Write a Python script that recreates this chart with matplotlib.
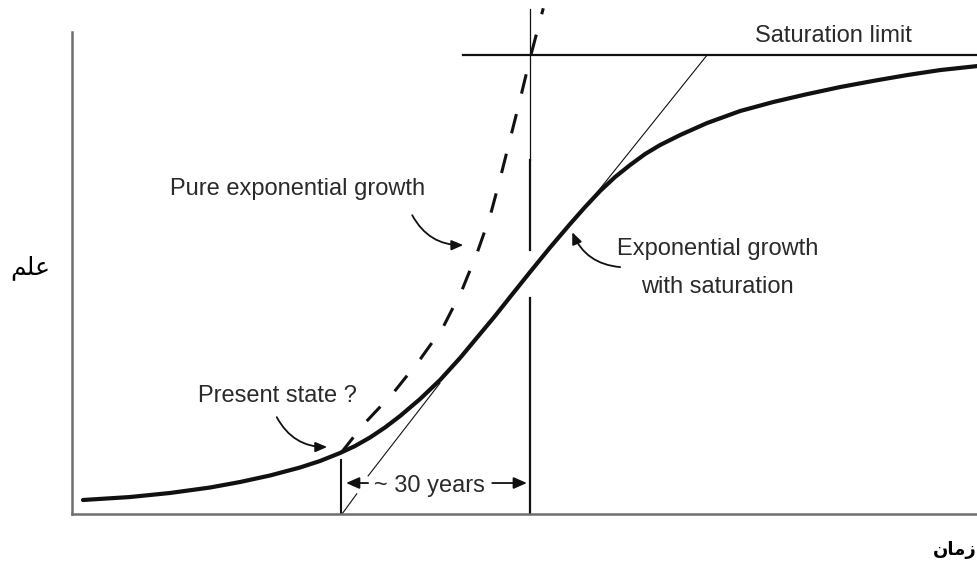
"""
Exponential growth vs. exponential growth with saturation (logistic sketch)
"""

import matplotlib
matplotlib.use("Agg")
import matplotlib.pyplot as plt

plt.rcParams['font.family'] = ['Liberation Sans', 'DejaVu Sans']

# time in years relative to the present state, growth in % of the saturation limit
years_s = [-40.95, -33.49, -27.14, -20.79, -16.03, -11.27, -6.51, -3.33, -0.16,
           2.22, 4.60, 6.98, 9.37, 12.54, 15.71, 18.89, 22.06, 24.44, 26.83,
           30.0, 33.17, 36.35, 38.73, 41.11, 43.49, 45.87, 48.25, 50.63, 53.81,
           58.10, 63.33, 68.57, 73.65, 79.21, 84.76, 89.84, 95.08, 100.95]
growth_s = [3.05, 3.70, 4.58, 5.77, 6.97, 8.39, 10.13, 11.55, 13.29,
            14.81, 16.67, 18.85, 21.35, 25.05, 29.19, 33.99, 39.22, 43.14, 47.28,
            52.72, 58.06, 63.18, 66.88, 70.37, 73.42, 76.03, 78.43, 80.39, 82.57,
            85.19, 87.80, 89.76, 91.39, 93.03, 94.44, 95.64, 96.73, 97.60]

years_exp = [0.0, 3.5, 8.3, 12.5, 16.2, 19.2, 21.6, 23.7, 25.2, 26.8, 28.4, 30.0, 32.1]
growth_exp = [13.3, 19.4, 26.4, 33.6, 40.7, 48.8, 56.9, 65.1, 72.8, 81.5, 90.2, 99.3, 110.2]

saturation = 100.0
saturation_from = 19.4
present_year = 0.0
horizon_years = 30

# thin tangent lines (x pairs, y pairs)
tangent_upper_x = [40.3, 58.1]
tangent_upper_y = [69.5, 100.0]
tangent_lower_x = [[0.16, 2.5], [4.3, 15.7]]
tangent_lower_y = [[0.0, 4.4], [8.3, 28.5]]

W, H = 978, 564
fig = plt.figure(figsize=(W / 100, H / 100), dpi=100)
ax = fig.add_axes([72 / W, 50 / H, 906 / W, 514 / H])
ax.set_xlim(-42.7, 101.1)
ax.set_ylim(0, 112.0)

ink = '#111111'
txt = '#2a2a2a'

ax.plot(years_s, growth_s, color=ink, lw=3.0, solid_capstyle='round',
        solid_joinstyle='round', zorder=5)
ax.plot(years_exp, growth_exp, color=ink, lw=2.2, dashes=(6.5, 6.9), clip_on=False, zorder=4)

ax.plot([saturation_from, 101.1], [saturation, saturation], color=ink, lw=1.6)
ax.plot(tangent_upper_x, tangent_upper_y, color=ink, lw=0.8)
for tx, ty in zip(tangent_lower_x, tangent_lower_y):
    ax.plot(tx, ty, color=ink, lw=0.8)

ax.plot([present_year, present_year], [0, 11.8], color=ink, lw=1.5)
ax.plot([horizon_years, horizon_years], [0, 47.1], color=ink, lw=1.6)
ax.plot([horizon_years, horizon_years], [57.5, 77.1], color=ink, lw=1.6)
ax.plot([horizon_years, horizon_years], [77.1, 110.0], color=ink, lw=0.9, clip_on=False)

fs = 17
ax.text(-27.1, 69.5, 'Pure exponential growth', fontsize=fs, color=txt, va='baseline', ha='left')
ax.text(59.8, 56.4, 'Exponential growth', fontsize=fs, color=txt, va='baseline', ha='center')
ax.text(59.8, 48.1, 'with saturation', fontsize=fs, color=txt, va='baseline', ha='center')
ax.text(-22.7, 24.4, 'Present state ?', fontsize=fs, color=txt, va='baseline', ha='left')
ax.text(65.7, 102.8, 'Saturation limit', fontsize=fs, color=txt, va='baseline', ha='left')
ax.text(14.0, 4.8, '~ 30 years', fontsize=fs, color=txt, va='baseline', ha='center')

curved = dict(arrowstyle='-|>,head_length=0.7,head_width=0.3', color=ink, lw=1.3,
              shrinkA=0, shrinkB=0)
ax.annotate('', xy=(19.4, 58.6), xytext=(11.3, 65.1),
            arrowprops=dict(curved, connectionstyle='arc3,rad=0.3'))
ax.annotate('', xy=(36.7, 61.4), xytext=(44.3, 53.8),
            arrowprops=dict(curved, connectionstyle='arc3,rad=-0.3'))
ax.annotate('', xy=(-2.2, 14.6), xytext=(-10.2, 21.1),
            arrowprops=dict(curved, connectionstyle='arc3,rad=0.3'))

straight = dict(arrowstyle='-|>,head_length=0.8,head_width=0.35', color=ink, lw=1.3,
                shrinkA=0, shrinkB=0)
ax.annotate('', xy=(0.8, 6.75), xytext=(4.3, 6.75), arrowprops=straight)
ax.annotate('', xy=(29.5, 6.75), xytext=(24.0, 6.75), arrowprops=straight)

for side in ['top', 'right']:
    ax.spines[side].set_visible(False)
for side in ['left', 'bottom']:
    ax.spines[side].set_color('#6e6e6e')
    ax.spines[side].set_linewidth(1.8)
ax.spines['left'].set_bounds(0, 105)
ax.set_xticks([])
ax.set_yticks([])

# Persian axis labels, written with presentation forms so the letters join
fig.text(30 / W, 1 - 268 / H, '\ufee2\ufee0\ufecb', fontsize=18, family=['DejaVu Sans'],
         ha='center', va='center', color='black')
fig.text(955 / W, 1 - 550 / H, '\ufee5\ufe8e\ufee3\ufeaf', fontsize=13, fontweight='bold',
         family=['DejaVu Sans'], ha='center', va='center', color='black')

fig.savefig('out.png', dpi=100)
